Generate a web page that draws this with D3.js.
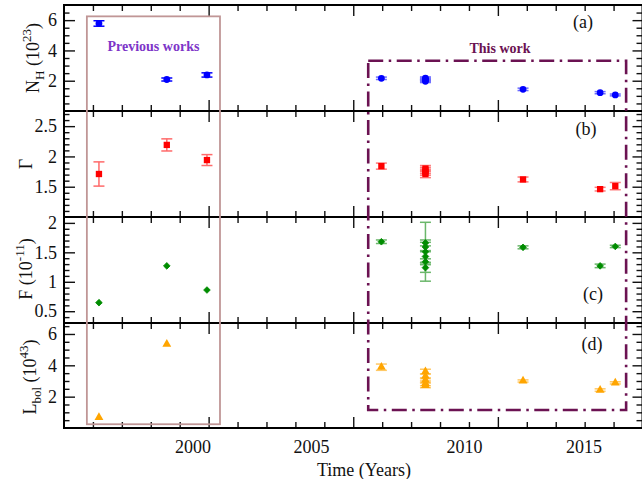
<!DOCTYPE html>
<html><head><meta charset="utf-8">
<script src="https://cdn.jsdelivr.net/npm/d3@7"></script>
<style>
body{margin:0;background:#fff}
svg{display:block}
text{font-family:"Liberation Serif","Times New Roman",Times,serif}
</style>
</head><body>
<svg id="c" width="642" height="479"></svg>
<script>
// ---------------- data (time in years) ----------------
const yearLabels = [2000, 2005, 2010, 2015];

// [time, value, error]
const nhPrev = [[1996.36, 5.78, 0.18], [1999.0, 2.08, 0.1], [2000.61, 2.38, 0.14]];
const nhWork = [[2007.3, 2.16, 0.08], [2008.74, 2.17, 0.08], [2008.74, 2.1, 0.08], [2008.74, 2.03, 0.08],
                [2008.74, 1.96, 0.08], [2012.47, 1.43, 0.08], [2015.69, 1.21, 0.07], [2016.32, 1.06, 0.06]];

const gamPrev = [[1996.36, 1.71, 0.2], [1999.0, 2.19, 0.1], [2000.61, 1.94, 0.09]];
const gamWork = [[2007.3, 1.84, 0.05], [2008.74, 1.8, 0.05], [2008.74, 1.77, 0.05], [2008.74, 1.74, 0.05],
                 [2008.74, 1.71, 0.06], [2012.47, 1.62, 0.04], [2015.69, 1.46, 0.03], [2016.32, 1.51, 0.06]];

const fluxPrev = [[1996.36, 0.645, 0], [1999.0, 1.27, 0], [2000.61, 0.86, 0]];
const fluxWork = [[2007.3, 1.68, 0.03], [2008.74, 1.66, 0.05], [2008.74, 1.59, 0.08], [2008.74, 1.51, 0.5],
                  [2008.74, 1.43, 0.1], [2008.74, 1.34, 0.05], [2008.74, 1.24, 0.08],
                  [2012.47, 1.585, 0.025], [2015.69, 1.27, 0.03], [2016.32, 1.6, 0.02]];

const lbolPrev = [[1996.36, 0.68, 0], [1999.0, 5.35, 0]];
const lbolWork = [[2007.3, 3.88, 0.2], [2008.74, 3.6, 0.15], [2008.74, 3.3, 0.15], [2008.74, 3.05, 0.15],
                  [2008.74, 2.85, 0.15], [2008.74, 2.72, 0.15], [2012.47, 3.0, 0.07],
                  [2015.69, 2.42, 0.08], [2016.32, 2.88, 0.07]];

// box extents in data units
const prevBox = {t0: 1995.89, t1: 2001.16, top: 6.25, bottom: 0.24};
const workBox = {t0: 2006.87, t1: 2016.77, top: 3.32, bottom: 1.15};

// ---------------- layout ----------------
const svg = d3.select('#c');
const X0 = 64, X1 = 642.5;
const edges = [5, 111, 217, 323, 428];

const x = d3.scaleLinear()
  .domain([1995, 2000, 2005, 2010, 2015, 2017.45])
  .range([X0, 192.5, 311, 464, 583.5, X1]);
const xt = d3.scaleLinear().domain([0, 20]).range([X0, X1]);

const panels = [
  {id:'(a)', domain:[0,7], step:0.5, labels:[2,4,6], prev:nhPrev, work:nhWork, color:'#0000ff', bar:'#0000ff', workBar:'#3b3bff', sym:'circle', lx:583, ly:28, fmt:d3.format('d')},
  {id:'(b)', domain:[1,2.75], step:0.1, labels:[1.5,2,2.5], prev:gamPrev, work:gamWork, color:'#ff0000', bar:'#ff6a6a', workBar:'#ff5050', sym:'square', lx:586, ly:135, fmt:d => d3.format('')(d)},
  {id:'(c)', domain:[0.3,2.1], step:0.1, labels:[0.5,1,1.5,2], prev:fluxPrev, work:fluxWork, color:'#008c00', bar:'#2e9a2e', workBar:'#3a9f3a', sym:'diamond', lx:593, ly:300, fmt:d => d3.format('')(d)},
  {id:'(d)', domain:[0,6.7], step:0.5, labels:[2,4,6], prev:lbolPrev, work:lbolWork, color:'#ffa500', bar:'#ffb733', workBar:'#ffb733', sym:'triangle', lx:592, ly:350, fmt:d3.format('d')}
];

panels.forEach((p, i) => {
  p.y = d3.scaleLinear().domain(p.domain).range([edges[i+1], edges[i]]);
  p.top = edges[i]; p.bot = edges[i+1];
});

// ---------------- ticks ----------------
const minorX = d3.range(1, 20).filter(v => v % 5 !== 0);
const majorX = [5, 10, 15];
function clean(g){ g.select('.domain').remove(); g.selectAll('.tick line').attr('stroke','#111').attr('stroke-width',1.4); }

panels.forEach((p, i) => {
  [[d3.axisTop, p.top], [d3.axisBottom, p.bot]].forEach(([ax, yy]) => {
    svg.append('g').attr('transform', `translate(0,${yy})`)
      .call(ax(xt).tickValues(minorX).tickSize(-6).tickFormat('')).call(clean);
    svg.append('g').attr('transform', `translate(0,${yy})`)
      .call(ax(xt).tickValues(majorX).tickSize(-11).tickFormat('')).call(clean);
  });
  const [d0, d1] = p.domain;
  const vals = d3.range(Math.ceil(d0 / p.step - 1e-6), Math.floor(d1 / p.step + 1e-6) + 1)
    .map(k => +(k * p.step).toFixed(3))
    .filter(v => v > d0 + 1e-6 && v < d1 - 1e-6 && !p.labels.some(l => Math.abs(l - v) < 1e-6));
  svg.append('g').attr('transform', `translate(${X0},0)`)
    .call(d3.axisLeft(p.y).tickValues(vals).tickSize(-5.5).tickFormat('')).call(clean);
  const gl = svg.append('g').attr('transform', `translate(${X0},0)`)
    .call(d3.axisLeft(p.y).tickValues(p.labels).tickSize(-11).tickPadding(7).tickFormat(p.fmt)).call(clean);
  gl.selectAll('text').attr('font-size', 18).attr('fill', '#111');
  svg.append('g').attr('transform', `translate(${X1},0)`)
    .call(d3.axisRight(p.y).tickValues(vals).tickSize(-6).tickFormat('')).call(clean);
  svg.append('g').attr('transform', `translate(${X1},0)`)
    .call(d3.axisRight(p.y).tickValues(p.labels).tickSize(-10).tickFormat('')).call(clean);
});

const gx = svg.append('g').attr('transform', `translate(0,${edges[4]})`)
  .call(d3.axisBottom(x).tickValues(yearLabels).tickSize(0).tickPadding(12).tickFormat(d3.format('d')));
gx.select('.domain').remove();
gx.selectAll('text').attr('font-size', 18).attr('fill', '#111');

// frame
const frame = svg.append('g').attr('stroke', '#000').attr('stroke-width', 2).attr('fill', 'none');
edges.forEach(e => frame.append('line').attr('x1', X0).attr('x2', X1 + 2).attr('y1', e).attr('y2', e));
frame.append('line').attr('x1', X0).attr('x2', X0).attr('y1', edges[0] - 1).attr('y2', edges[4] + 1);
frame.append('line').attr('x1', X1).attr('x2', X1).attr('y1', edges[0] - 1).attr('y2', edges[4] + 1);

// boxes
const pa = panels[0], pd = panels[3];
svg.append('rect')
  .attr('x', x(prevBox.t0)).attr('y', pa.y(prevBox.top))
  .attr('width', x(prevBox.t1) - x(prevBox.t0)).attr('height', pd.y(prevBox.bottom) - pa.y(prevBox.top))
  .attr('fill', 'none').attr('stroke', '#c09696').attr('stroke-width', 1.8);
svg.append('rect')
  .attr('x', x(workBox.t0)).attr('y', pa.y(workBox.top))
  .attr('width', x(workBox.t1) - x(workBox.t0)).attr('height', pd.y(workBox.bottom) - pa.y(workBox.top))
  .attr('fill', 'none').attr('stroke', '#6b1252').attr('stroke-width', 2.6)
  .attr('stroke-dasharray', '15,5.5,2.5,5.5');

// data
const symMap = {circle: d3.symbolCircle, square: d3.symbolSquare, diamond: d3.symbolSquare, triangle: d3.symbolTriangle};
const symSize = {circle: 36, square: 40, diamond: 22, triangle: 34};
panels.forEach(p => {
  const g = svg.append('g');
  [[p.prev, p.bar, 1], [p.work, p.workBar, 0.75]].forEach(([arr, col, op]) => {
    const eb = g.append('g').attr('stroke', col).attr('stroke-width', 1.5).attr('opacity', op);
    arr.filter(d => d[2] > 0).forEach(d => {
      const cx = x(d[0]), ylo = p.y(d[1] - d[2]), yhi = p.y(d[1] + d[2]);
      eb.append('line').attr('x1', cx).attr('x2', cx).attr('y1', ylo).attr('y2', yhi);
      eb.append('line').attr('x1', cx - 5.5).attr('x2', cx + 5.5).attr('y1', ylo).attr('y2', ylo);
      eb.append('line').attr('x1', cx - 5.5).attr('x2', cx + 5.5).attr('y1', yhi).attr('y2', yhi);
    });
  });
  const sym = d3.symbol().type(symMap[p.sym]).size(symSize[p.sym]);
  const rot = p.sym === 'diamond' ? ' rotate(45)' : '';
  g.selectAll('path.m').data(p.prev.concat(p.work)).join('path').attr('class', 'm')
    .attr('d', sym).attr('fill', p.color)
    .attr('stroke', p.sym === 'diamond' ? p.color : 'none').attr('stroke-width', 0.8).attr('stroke-linejoin', 'round')
    .attr('transform', d => `translate(${x(d[0])},${p.y(d[1])})${rot}`);
  svg.append('text').attr('x', p.lx).attr('y', p.ly).attr('text-anchor', 'middle')
    .attr('font-size', 18).attr('fill', '#111').text(p.id);
});

// annotations
svg.append('text').attr('x', (x(prevBox.t0) + x(prevBox.t1)) / 2).attr('y', 51)
  .attr('text-anchor', 'middle').attr('font-size', 14).attr('font-weight', 'bold')
  .attr('fill', '#7d35c8').text('Previous works');
svg.append('text').attr('x', 500).attr('y', 53)
  .attr('text-anchor', 'middle').attr('font-size', 14).attr('font-weight', 'bold')
  .attr('fill', '#6b1252').text('This work');

// axis titles
function rotTitle(cx, cy, parts){
  const t = svg.append('text').attr('transform', `translate(${cx},${cy}) rotate(-90)`)
    .attr('text-anchor', 'middle').attr('font-size', 18).attr('fill', '#111');
  parts.forEach(([s, kind]) => {
    const ts = t.append('tspan').text(s);
    if (kind === 'sub') ts.attr('font-size', 13).attr('dy', 5);
    if (kind === 'sup') ts.attr('font-size', 13).attr('dy', -8);
    if (kind === 'after-sub') ts.attr('dy', -5);
    if (kind === 'after-sup') ts.attr('dy', 8);
  });
}
rotTitle(39, 58, [['N'], ['H', 'sub'], [' (10', 'after-sub'], ['23', 'sup'], [')', 'after-sup']]);
rotTitle(32, 164, [['Γ']]);
rotTitle(32, 269, [['F (10'], ['-11', 'sup'], [')', 'after-sup']]);
rotTitle(36, 377, [['L'], ['bol', 'sub'], [' (10', 'after-sub'], ['43', 'sup'], [')', 'after-sup']]);

svg.append('text').attr('x', 364).attr('y', 476).attr('text-anchor', 'middle')
  .attr('font-size', 18).attr('fill', '#111').text('Time (Years)');
</script>
</body></html>
